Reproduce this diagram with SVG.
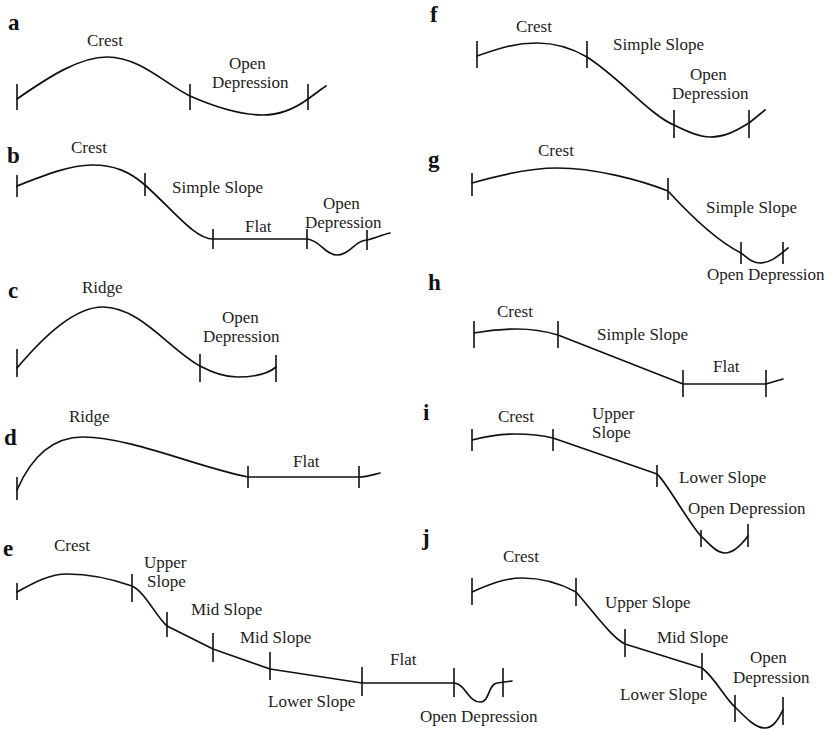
<svg xmlns="http://www.w3.org/2000/svg" width="833" height="729" viewBox="0 0 833 729">
<style>
.bg{fill:#fff}
.p{fill:none;stroke:#111;stroke-width:1.7;stroke-linejoin:round;stroke-linecap:round}
.t{fill:none;stroke:#111;stroke-width:1.6}
.lb{font-family:"Liberation Serif","Times New Roman",serif;font-size:17px;fill:#222}
.pl{font-family:"Liberation Serif","Times New Roman",serif;font-size:23px;font-weight:bold;fill:#111}
</style>
<rect class="bg" x="0" y="0" width="833" height="729"/>
<g id="panel-a">
<text class="pl" x="8" y="30">a</text>
<path class="p" d="M17,99 C50,76 80,57 107,57 C140,57 165,84 190,96 C215,107 240,115 263,115 C283,115 297,107 308,99 C315,94 320,90 326,86"/>
<path class="t" d="M17,84V110 M190,84V110 M308,84V110"/>
<text class="lb" x="87" y="46">Crest</text>
<text class="lb" x="229" y="69">Open</text>
<text class="lb" x="212" y="88">Depression</text>
</g>
<g id="panel-b">
<text class="pl" x="7" y="163">b</text>
<path class="p" d="M17,186 C45,175 70,165 92,165 C115,165 130,172 145,185 C175,212 195,239 213,239 L307,239 C320,240 325,255 337,255 C350,255 355,240 367,240 C375,238 382,235 390,233"/>
<path class="t" d="M17,175V197 M145,173V196 M213,229V249 M307,229V249 M367,230V250"/>
<text class="lb" x="71" y="153">Crest</text>
<text class="lb" x="172" y="193">Simple Slope</text>
<text class="lb" x="245" y="232">Flat</text>
<text class="lb" x="323" y="209">Open</text>
<text class="lb" x="305" y="228">Depression</text>
</g>
<g id="panel-c">
<text class="pl" x="8" y="298">c</text>
<path class="p" d="M17,368 C45,335 75,307 103,307 C140,307 170,350 200,366 C215,374 225,377 237,377 C255,377 268,374 276,367"/>
<path class="t" d="M17,349V377 M200,354V382 M276,355V382"/>
<text class="lb" x="82" y="293">Ridge</text>
<text class="lb" x="222" y="323">Open</text>
<text class="lb" x="203" y="342">Depression</text>
</g>
<g id="panel-d">
<text class="pl" x="4" y="445">d</text>
<path class="p" d="M17,490 C30,460 50,437 83,437 C130,437 200,468 248,477 L359,477 C366,477 372,475 380,473"/>
<path class="t" d="M17,477V500 M248,466V488 M359,466V488"/>
<text class="lb" x="69" y="422">Ridge</text>
<text class="lb" x="293" y="467">Flat</text>
</g>
<g id="panel-e">
<text class="pl" x="3" y="556">e</text>
<path class="p" d="M17,592 C35,582 50,574 67,574 C90,574 115,580 132,586 C145,592 155,615 167,626 L213,649 L270,669 L362,683 L454,683 C466,684 468,702 480,702 C490,702 488,684 497,683 L512,681"/>
<path class="t" d="M17,583V600 M132,574V602 M167,612V637 M213,633V662 M270,652V680 M362,667V696 M454,668V697 M503,668V697"/>
<text class="lb" x="54" y="551">Crest</text>
<text class="lb" x="144" y="568">Upper</text>
<text class="lb" x="147" y="587">Slope</text>
<text class="lb" x="191" y="615">Mid Slope</text>
<text class="lb" x="240" y="643">Mid Slope</text>
<text class="lb" x="390" y="665">Flat</text>
<text class="lb" x="268" y="707">Lower Slope</text>
<text class="lb" x="420" y="722">Open Depression</text>
</g>
<g id="panel-f">
<text class="pl" x="430" y="22">f</text>
<path class="p" d="M477,56 C500,48 515,43 537,43 C560,43 575,50 587,57 C620,78 650,115 674,125 C690,133 700,137 710,137 C728,137 740,128 749,123 L765,110"/>
<path class="t" d="M477,41V68 M587,41V68 M674,110V138 M749,110V138"/>
<text class="lb" x="516" y="32">Crest</text>
<text class="lb" x="613" y="50">Simple Slope</text>
<text class="lb" x="690" y="80">Open</text>
<text class="lb" x="672" y="99">Depression</text>
</g>
<g id="panel-g">
<text class="pl" x="428" y="167">g</text>
<path class="p" d="M472,183 C500,175 530,168 557,168 C595,168 640,180 668,191 C690,215 715,240 741,253 C748,258 752,263 760,263 C770,263 777,257 788,248"/>
<path class="t" d="M472,173V196 M668,178V200 M741,242V264 M783,242V264"/>
<text class="lb" x="538" y="156">Crest</text>
<text class="lb" x="706" y="213">Simple Slope</text>
<text class="lb" x="707" y="280">Open Depression</text>
</g>
<g id="panel-h">
<text class="pl" x="428" y="290">h</text>
<path class="p" d="M474,333 C490,330 505,329 517,329 C535,329 548,332 558,335 L683,384 L766,384 L783,379"/>
<path class="t" d="M474,321V348 M558,321V348 M683,370V397 M766,370V397"/>
<text class="lb" x="497" y="317">Crest</text>
<text class="lb" x="597" y="340">Simple Slope</text>
<text class="lb" x="713" y="372">Flat</text>
</g>
<g id="panel-i">
<text class="pl" x="423" y="420">i</text>
<path class="p" d="M472,440 C488,436 502,434 515,434 C532,434 545,436 553,438 L657,474 C665,480 690,525 701,536 C710,545 717,553 725,553 C735,553 745,540 748,536"/>
<path class="t" d="M472,429V451 M553,429V451 M657,465V487 M701,530V547 M748,524V547"/>
<text class="lb" x="498" y="422">Crest</text>
<text class="lb" x="592" y="419">Upper</text>
<text class="lb" x="592" y="438">Slope</text>
<text class="lb" x="679" y="483">Lower Slope</text>
<text class="lb" x="688" y="514">Open Depression</text>
</g>
<g id="panel-j">
<text class="pl" x="422" y="545">j</text>
<path class="p" d="M472,592 C490,584 505,578 522,578 C545,578 565,586 576,592 C592,610 612,638 625,644 L702,668 C715,678 725,698 735,707 C745,717 755,728 765,728 C775,728 780,715 783,710"/>
<path class="t" d="M472,578V605 M576,578V606 M625,629V657 M702,653V680 M735,695V722 M783,697V725"/>
<text class="lb" x="503" y="562">Crest</text>
<text class="lb" x="605" y="608">Upper Slope</text>
<text class="lb" x="657" y="643">Mid Slope</text>
<text class="lb" x="750" y="663">Open</text>
<text class="lb" x="733" y="683">Depression</text>
<text class="lb" x="620" y="700">Lower Slope</text>
</g>
</svg>
